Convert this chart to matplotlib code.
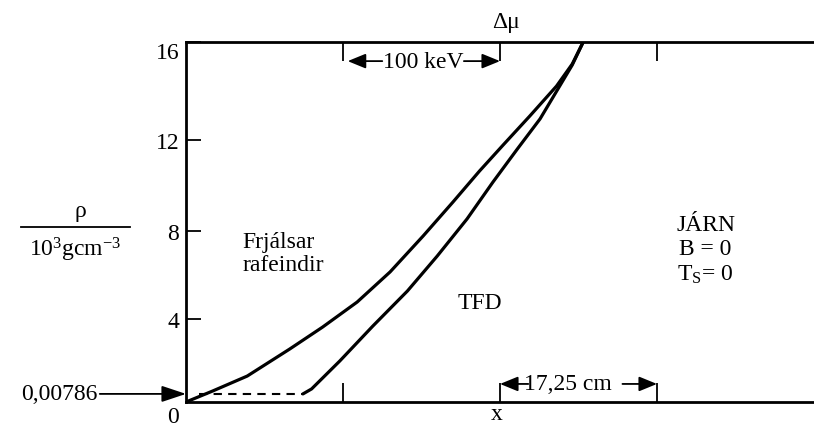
import numpy as np
import matplotlib
matplotlib.use("Agg")
import matplotlib.pyplot as plt

plt.rcParams['font.family'] = ['Liberation Serif', 'DejaVu Serif']
plt.rcParams['mathtext.fontset'] = 'custom'
plt.rcParams['mathtext.rm'] = 'Liberation Serif'
plt.rcParams['mathtext.it'] = 'Liberation Serif:italic'

# density curves, x in units of 17,25 cm, rho in 10^3 g/cm^3
free_x = [0.0, 0.17, 0.39, 0.66, 0.87, 1.09, 1.30, 1.51, 1.70, 1.87, 2.02, 2.19, 2.36, 2.46, 2.53]
free_rho = [0.0, 0.53, 1.25, 2.55, 3.61, 4.77, 6.14, 7.77, 9.27, 10.64, 11.78, 12.98, 14.20, 15.10, 16.0]

tfd_x = [0.745, 0.80, 0.98, 1.19, 1.41, 1.60, 1.79, 1.955, 2.11, 2.255, 2.38, 2.46, 2.53]
tfd_rho = [0.39, 0.63, 1.98, 3.66, 5.27, 6.86, 8.53, 10.15, 11.60, 12.86, 14.20, 15.06, 16.0]

surface_x = [0.08, 0.745]
surface_rho = [0.39, 0.39]

y_ticks = [4, 8, 12, 16]
x_ticks = [1, 2, 3]

# hand drawn axis is not quite linear
scale_vals = [0, 4, 8, 12, 16]
scale_pos = [0, 83, 171, 262, 360]

def fwd(v):
    return np.interp(v, scale_vals, scale_pos)

def inv(p):
    return np.interp(p, scale_pos, scale_vals)

fig = plt.figure(figsize=(8.14, 4.27), dpi=100)
ax = fig.add_axes([186 / 814, 24 / 427, 628 / 814, 360 / 427])
ax.set_yscale('function', functions=(fwd, inv))
ax.set_xlim(0, 4)
ax.set_ylim(0, 16)

lw = 2.3
ax.plot(free_x, free_rho, color='black', lw=lw, solid_capstyle='round', solid_joinstyle='round')
ax.plot(tfd_x, tfd_rho, color='black', lw=lw, solid_capstyle='round', solid_joinstyle='round')
ax.plot(surface_x, surface_rho, color='black', lw=1.5, linestyle=(0, (4, 3)))

for s in ['left', 'top', 'bottom']:
    ax.spines[s].set_linewidth(2)
ax.spines['right'].set_visible(False)

fs = 17
ax.set_xticks(x_ticks)
ax.set_xticklabels([])
ax.tick_params(axis='x', direction='in', top=True, bottom=True, length=14, width=1.3)
ax.set_yticks(y_ticks)
ax.set_yticklabels([str(t) for t in y_ticks], fontsize=fs)
ax.tick_params(axis='y', direction='in', length=11, width=1.3, pad=5)
for lab in ax.get_yticklabels():
    if lab.get_text() == '16':
        lab.set_va('top')

ax.text(-0.02, -0.04, '0', fontsize=fs, ha='center', va='center', transform=ax.transAxes)
ax.text(1.98, -0.031, 'x', fontsize=fs, ha='center', va='center', transform=ax.get_xaxis_transform())
ax.text(2.04, 1.058, 'Δμ', fontsize=fs, ha='center', va='center', transform=ax.get_xaxis_transform())

# 0,00786 pointer
ax.annotate('0,00786', xy=(0, 0.39), xytext=(-89, 0), textcoords='offset pixels',
            fontsize=fs, ha='right', va='center', annotation_clip=False,
            arrowprops=dict(arrowstyle='-|>,head_length=1.5,head_width=0.5', mutation_scale=10,
                            color='black', lw=1.3, shrinkA=0, shrinkB=0))

# 100 keV span
arr = dict(arrowstyle='-|>,head_length=1.1,head_width=0.45', mutation_scale=10,
           color='black', lw=1.3, shrinkA=0, shrinkB=0)
ax.text(1.51, 15.22, '100 keV', fontsize=fs, ha='center', va='center')
ax.annotate('', xy=(1.03, 15.22), xytext=(1.25, 15.22), arrowprops=arr)
ax.annotate('', xy=(2.0, 15.22), xytext=(1.77, 15.22), arrowprops=arr)

# 17,25 cm span
ax.text(2.43, 0.87, '17,25 cm', fontsize=fs, ha='center', va='center')
ax.annotate('', xy=(2.0, 0.87), xytext=(2.18, 0.87), arrowprops=arr)
ax.annotate('', xy=(3.0, 0.87), xytext=(2.78, 0.87), arrowprops=arr)

ax.text(0.357, 7.0, 'Frjálsar\nrafeindir', fontsize=fs, ha='left', va='center', linespacing=1.1)
ax.text(1.873, 4.73, 'TFD', fontsize=fs, ha='center', va='center')
ax.text(3.31, 7.15, 'JÁRN\nB = 0\nT$_{\\mathrm{S}}$= 0', fontsize=fs, ha='center', va='center',
        linespacing=1.2)

# y axis label as a fraction
fig.text(80 / 814, 1 - 212 / 427, 'ρ', fontsize=fs, ha='center', va='center')
fig.add_artist(plt.Line2D([21 / 814, 130 / 814], [1 - 228 / 427, 1 - 228 / 427],
                          color='black', lw=1.3, transform=fig.transFigure))
fig.text(75 / 814, 1 - 250 / 427, '10$^{\\mathrm{3}}$gcm$^{\\mathrm{-3}}$', fontsize=fs,
         ha='center', va='center')

fig.savefig('out.png', dpi=100)
